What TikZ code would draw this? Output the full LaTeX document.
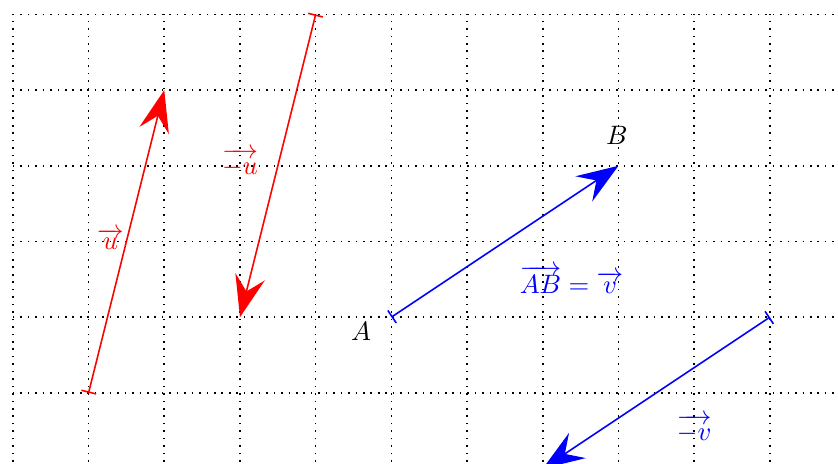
\documentclass[tikz,border=0pt]{standalone}
\usepackage{amsmath}
\usepackage{tikz}
\usetikzlibrary{arrows.meta, positioning, calc}
\tikzset{
	gridline/.style ={line width=0.6pt, dash pattern=on 0.6pt off 2.2pt},
	vecarrow/.style ={{Bar[width=2mm]}-{Stealth[length=5.5mm, width=4mm, inset=2mm]}, semithick},
	veclabel/.style ={inner sep=1pt},
	ptlabel/.style  ={inner sep=1pt},
}
\begin{document}
\begin{tikzpicture}
	\clip (-0.17,0.07) rectangle (10.9,6.19);
	\draw[gridline] (0,-0.5) grid (11.5,6);
	% points
	\coordinate (u0) at (1,1);   \coordinate (u1) at (2,5);
	\coordinate (mu0) at (4,6);  \coordinate (mu1) at (3,2);
	\coordinate (A) at (5,2);    \coordinate (B) at (8,4);
	\coordinate (mv0) at (10,2); \coordinate (mv1) at (7,0);
	% vectors
	\draw[vecarrow, red] (u0) -- (u1);
	\draw[vecarrow, red] (mu0) -- (mu1);
	\draw[vecarrow, blue] (A) -- (B);
	\draw[vecarrow, blue] (mv0) -- (mv1);
	% labels
	\node[veclabel, red] (lu) at (1.29,3.03) {$\overrightarrow{u}$};
	\node[veclabel, red] (lmu) at (3.0,4.04) {$\overrightarrow{-u}$};
	\node[veclabel, blue] (lab) at (7.38,2.5) {$\overrightarrow{AB}=\overrightarrow{v}$};
	\node[veclabel, blue] (lmv) at (9.0,0.53) {$\overrightarrow{-v}$};
	\node[ptlabel] (lA) at (4.6,1.81) {$A$};
	\node[ptlabel] (lB) at (7.98,4.4) {$B$};
\end{tikzpicture}
\end{document}
